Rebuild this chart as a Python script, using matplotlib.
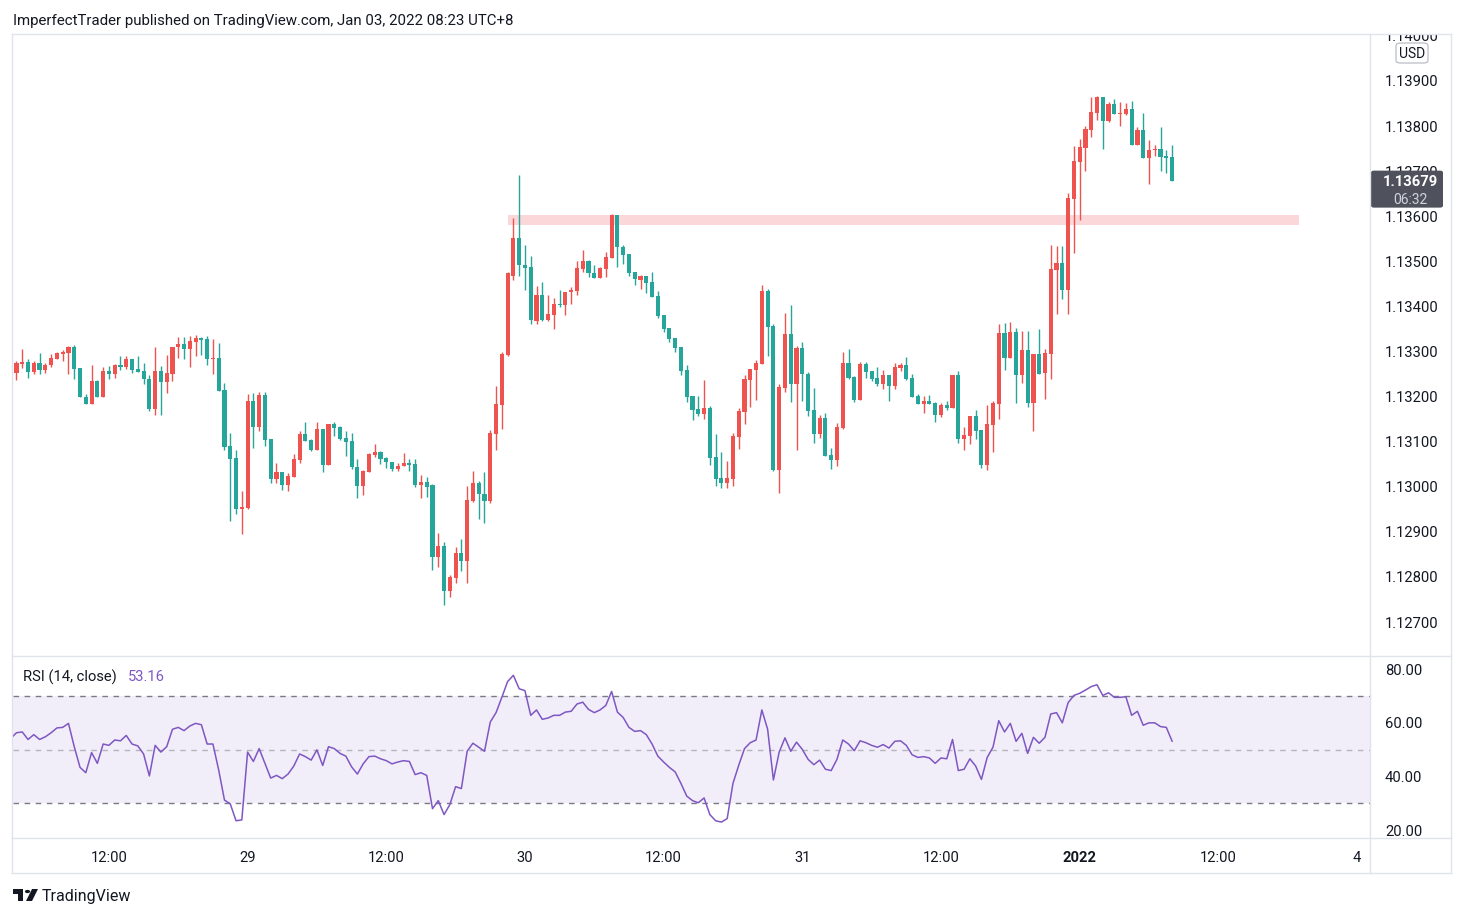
import numpy as np
import matplotlib
matplotlib.use('Agg')
import matplotlib.pyplot as plt
from matplotlib.patches import FancyBboxPatch, Polygon, Circle
from matplotlib.lines import Line2D
from matplotlib.transforms import offset_copy

# EURUSD 30 min bars, bar index -1 .. 200
first_bar = -1
opens = [
    1.13268,
    1.13253, 1.13273, 1.13277, 1.13255, 1.13275, 1.13260, 1.13269, 1.13284, 1.13295, 1.13297,
    1.13310, 1.13263, 1.13199, 1.13184, 1.13235, 1.13200, 1.13257, 1.13251, 1.13270, 1.13266,
    1.13283, 1.13261, 1.13257, 1.13239, 1.13173, 1.13257, 1.13233, 1.13251, 1.13309, 1.13317,
    1.13306, 1.13322, 1.13329, 1.13328, 1.13283, 1.13286, 1.13215, 1.13090, 1.13064, 1.12951,
    1.12953, 1.13190, 1.13133, 1.13204, 1.13105, 1.13017, 1.13032, 1.13003, 1.13022, 1.13059,
    1.13117, 1.13103, 1.13081, 1.13128, 1.13048, 1.13139, 1.13132, 1.13108, 1.13101, 1.13043,
    1.13002, 1.13032, 1.13070, 1.13077, 1.13063, 1.13056, 1.13040, 1.13045, 1.13053, 1.13051,
    1.13003, 1.13011, 1.13003, 1.12845, 1.12869, 1.12769, 1.12798, 1.12853, 1.12836, 1.12968,
    1.13009, 1.12984, 1.12969, 1.13118, 1.13182, 1.13292, 1.13468, 1.13552, 1.13491, 1.13488,
    1.13368, 1.13426, 1.13370, 1.13382, 1.13406, 1.13404, 1.13431, 1.13435, 1.13484, 1.13501,
    1.13474, 1.13464, 1.13484, 1.13508, 1.13602, 1.13532, 1.13516, 1.13477, 1.13459, 1.13467,
    1.13454, 1.13423, 1.13381, 1.13352, 1.13330, 1.13310, 1.13259, 1.13201, 1.13172, 1.13161,
    1.13174, 1.13066, 1.13019, 1.13008, 1.13017, 1.13110, 1.13166, 1.13237, 1.13259, 1.13273,
    1.13435, 1.13357, 1.13038, 1.13220, 1.13339, 1.13227, 1.13308, 1.13250, 1.13170, 1.13118,
    1.13153, 1.13071, 1.13060, 1.13131, 1.13275, 1.13244, 1.13193, 1.13272, 1.13257, 1.13241,
    1.13229, 1.13248, 1.13223, 1.13263, 1.13270, 1.13241, 1.13201, 1.13184, 1.13190, 1.13186,
    1.13159, 1.13181, 1.13175, 1.13248, 1.13106, 1.13112, 1.13157, 1.13126, 1.13048, 1.13137,
    1.13184, 1.13341, 1.13286, 1.13343, 1.13248, 1.13303, 1.13186, 1.13294, 1.13252, 1.13295,
    1.13481, 1.13496, 1.13437, 1.13639, 1.13721, 1.13752, 1.13792, 1.13830, 1.13864, 1.13812,
    1.13849, 1.13827, 1.13827, 1.13838, 1.13759, 1.13791, 1.13730, 1.13747, 1.13749, 1.13733,
    1.13731,
]
highs = [
    1.13270,
    1.13280, 1.13306, 1.13283, 1.13279, 1.13297, 1.13275, 1.13295, 1.13299, 1.13303, 1.13313,
    1.13314, 1.13263, 1.13206, 1.13270, 1.13237, 1.13266, 1.13268, 1.13272, 1.13290, 1.13290,
    1.13283, 1.13290, 1.13275, 1.13248, 1.13310, 1.13268, 1.13292, 1.13310, 1.13332, 1.13332,
    1.13334, 1.13337, 1.13332, 1.13334, 1.13328, 1.13319, 1.13230, 1.13119, 1.13081, 1.12990,
    1.13206, 1.13208, 1.13210, 1.13210, 1.13105, 1.13052, 1.13032, 1.13030, 1.13072, 1.13123,
    1.13143, 1.13105, 1.13143, 1.13128, 1.13139, 1.13143, 1.13134, 1.13123, 1.13119, 1.13061,
    1.13037, 1.13074, 1.13094, 1.13079, 1.13065, 1.13056, 1.13053, 1.13075, 1.13062, 1.13062,
    1.13026, 1.13022, 1.13007, 1.12897, 1.12878, 1.12804, 1.12867, 1.12884, 1.13002, 1.13035,
    1.13013, 1.13033, 1.13126, 1.13224, 1.13299, 1.13476, 1.13596, 1.13692, 1.13536, 1.13512,
    1.13445, 1.13454, 1.13426, 1.13419, 1.13437, 1.13432, 1.13443, 1.13501, 1.13525, 1.13503,
    1.13492, 1.13488, 1.13521, 1.13604, 1.13602, 1.13536, 1.13516, 1.13477, 1.13470, 1.13467,
    1.13476, 1.13434, 1.13381, 1.13352, 1.13330, 1.13310, 1.13270, 1.13201, 1.13201, 1.13237,
    1.13179, 1.13117, 1.13077, 1.13057, 1.13119, 1.13174, 1.13248, 1.13261, 1.13281, 1.13448,
    1.13439, 1.13361, 1.13228, 1.13386, 1.13404, 1.13312, 1.13321, 1.13255, 1.13219, 1.13159,
    1.13164, 1.13085, 1.13142, 1.13299, 1.13306, 1.13246, 1.13277, 1.13277, 1.13257, 1.13266,
    1.13259, 1.13248, 1.13275, 1.13275, 1.13288, 1.13250, 1.13206, 1.13201, 1.13204, 1.13188,
    1.13186, 1.13190, 1.13248, 1.13257, 1.13132, 1.13157, 1.13170, 1.13126, 1.13181, 1.13190,
    1.13361, 1.13363, 1.13366, 1.13352, 1.13345, 1.13345, 1.13294, 1.13349, 1.13305, 1.13536,
    1.13534, 1.13534, 1.13651, 1.13756, 1.13771, 1.13800, 1.13864, 1.13867, 1.13864, 1.13853,
    1.13860, 1.13853, 1.13851, 1.13856, 1.13798, 1.13829, 1.13769, 1.13758, 1.13798, 1.13747,
    1.13758,
]
lows = [
    1.13250,
    1.13237, 1.13263, 1.13242, 1.13251, 1.13251, 1.13253, 1.13266, 1.13284, 1.13280, 1.13249,
    1.13240, 1.13198, 1.13184, 1.13184, 1.13198, 1.13200, 1.13238, 1.13242, 1.13259, 1.13262,
    1.13253, 1.13255, 1.13229, 1.13167, 1.13160, 1.13160, 1.13209, 1.13235, 1.13286, 1.13284,
    1.13266, 1.13289, 1.13292, 1.13269, 1.13251, 1.13213, 1.13082, 1.12925, 1.12940, 1.12896,
    1.12951, 1.13087, 1.13124, 1.13091, 1.13008, 1.13008, 1.12993, 1.12991, 1.13022, 1.13052,
    1.13101, 1.13079, 1.13081, 1.13032, 1.13048, 1.13112, 1.13103, 1.13068, 1.13039, 1.12974,
    1.12981, 1.13032, 1.13065, 1.13050, 1.13041, 1.13034, 1.13036, 1.13045, 1.13036, 1.13000,
    1.12976, 1.12978, 1.12816, 1.12823, 1.12738, 1.12756, 1.12787, 1.12814, 1.12787, 1.12966,
    1.12929, 1.12920, 1.12963, 1.13082, 1.13129, 1.13290, 1.13459, 1.13468, 1.13437, 1.13360,
    1.13360, 1.13368, 1.13368, 1.13349, 1.13399, 1.13382, 1.13406, 1.13426, 1.13477, 1.13466,
    1.13464, 1.13464, 1.13466, 1.13508, 1.13488, 1.13495, 1.13468, 1.13448, 1.13439, 1.13430,
    1.13421, 1.13374, 1.13343, 1.13321, 1.13299, 1.13248, 1.13188, 1.13148, 1.13157, 1.13150,
    1.13048, 1.13001, 1.12997, 1.12997, 1.13001, 1.13083, 1.13139, 1.13177, 1.13192, 1.13273,
    1.13291, 1.13034, 1.12987, 1.13211, 1.13187, 1.13082, 1.13191, 1.13156, 1.13098, 1.13109,
    1.13069, 1.13040, 1.13045, 1.13129, 1.13238, 1.13187, 1.13193, 1.13242, 1.13235, 1.13224,
    1.13216, 1.13191, 1.13217, 1.13257, 1.13237, 1.13199, 1.13184, 1.13164, 1.13184, 1.13144,
    1.13155, 1.13170, 1.13175, 1.13097, 1.13081, 1.13095, 1.13106, 1.13041, 1.13037, 1.13077,
    1.13150, 1.13259, 1.13286, 1.13186, 1.13230, 1.13177, 1.13124, 1.13250, 1.13195, 1.13239,
    1.13383, 1.13417, 1.13383, 1.13519, 1.13592, 1.13701, 1.13776, 1.13814, 1.13750, 1.13810,
    1.13827, 1.13801, 1.13825, 1.13759, 1.13759, 1.13730, 1.13672, 1.13734, 1.13701, 1.13696,
    1.13679,
]
closes = [
    1.13253,
    1.13275, 1.13277, 1.13255, 1.13275, 1.13260, 1.13270, 1.13286, 1.13297, 1.13299, 1.13310,
    1.13262, 1.13198, 1.13184, 1.13235, 1.13200, 1.13257, 1.13251, 1.13270, 1.13266, 1.13283,
    1.13260, 1.13255, 1.13238, 1.13173, 1.13257, 1.13233, 1.13252, 1.13310, 1.13317, 1.13306,
    1.13323, 1.13330, 1.13326, 1.13284, 1.13286, 1.13213, 1.13089, 1.13062, 1.12951, 1.12955,
    1.13190, 1.13133, 1.13204, 1.13103, 1.13017, 1.13032, 1.13003, 1.13023, 1.13061, 1.13117,
    1.13101, 1.13081, 1.13128, 1.13048, 1.13139, 1.13130, 1.13105, 1.13099, 1.13043, 1.13002,
    1.13034, 1.13072, 1.13077, 1.13061, 1.13054, 1.13040, 1.13047, 1.13053, 1.13049, 1.13003,
    1.13011, 1.13000, 1.12845, 1.12869, 1.12769, 1.12800, 1.12853, 1.12836, 1.12971, 1.13009,
    1.12983, 1.12969, 1.13119, 1.13184, 1.13295, 1.13474, 1.13552, 1.13491, 1.13486, 1.13370,
    1.13426, 1.13370, 1.13383, 1.13406, 1.13403, 1.13432, 1.13437, 1.13485, 1.13501, 1.13473,
    1.13464, 1.13485, 1.13510, 1.13602, 1.13531, 1.13515, 1.13475, 1.13460, 1.13467, 1.13452,
    1.13421, 1.13379, 1.13350, 1.13328, 1.13308, 1.13257, 1.13199, 1.13170, 1.13161, 1.13174,
    1.13063, 1.13017, 1.13008, 1.13019, 1.13112, 1.13168, 1.13239, 1.13261, 1.13274, 1.13435,
    1.13355, 1.13038, 1.13221, 1.13339, 1.13227, 1.13308, 1.13249, 1.13169, 1.13118, 1.13153,
    1.13069, 1.13060, 1.13133, 1.13275, 1.13242, 1.13193, 1.13272, 1.13255, 1.13240, 1.13229,
    1.13248, 1.13224, 1.13266, 1.13270, 1.13239, 1.13199, 1.13184, 1.13190, 1.13184, 1.13159,
    1.13181, 1.13175, 1.13248, 1.13106, 1.13115, 1.13157, 1.13124, 1.13048, 1.13139, 1.13186,
    1.13341, 1.13286, 1.13343, 1.13248, 1.13303, 1.13186, 1.13294, 1.13250, 1.13296, 1.13483,
    1.13496, 1.13437, 1.13640, 1.13722, 1.13753, 1.13793, 1.13831, 1.13864, 1.13812, 1.13849,
    1.13827, 1.13830, 1.13838, 1.13759, 1.13791, 1.13730, 1.13747, 1.13749, 1.13732, 1.13730,
    1.13679,
]
rsi = [
    54.2,
    56.3, 56.6, 53.8, 55.6, 53.8, 54.8, 56.3, 58.1, 58.3, 59.8,
    51.1, 43.4, 41.4, 48.9, 44.9, 52.1, 51.6, 53.6, 53.3, 55.3,
    52.1, 51.4, 48.4, 40.2, 51.6, 49.1, 51.1, 57.6, 58.3, 57.1,
    58.8, 59.8, 59.3, 52.1, 52.1, 42.4, 31.2, 29.8, 23.5, 23.8,
    49.1, 45.6, 50.4, 44.9, 39.4, 40.4, 39.2, 40.9, 43.9, 48.4,
    47.4, 46.1, 49.9, 44.1, 51.1, 50.4, 48.6, 47.6, 43.6, 40.9,
    44.7, 47.4, 47.6, 46.6, 45.9, 44.7, 45.4, 45.9, 45.6, 40.7,
    41.4, 40.4, 28.0, 31.0, 25.8, 29.5, 36.2, 35.5, 49.4, 52.4,
    50.9, 49.4, 60.3, 63.8, 69.5, 75.4, 77.7, 72.7, 72.0, 62.8,
    64.8, 61.3, 61.8, 62.8, 62.8, 64.0, 64.3, 67.0, 67.7, 65.0,
    63.8, 64.8, 66.5, 71.7, 64.0, 62.0, 58.3, 56.8, 57.1, 55.6,
    52.1, 47.6, 45.4, 43.4, 41.7, 37.4, 32.7, 31.0, 30.2, 32.0,
    25.8, 23.5, 23.0, 24.3, 37.4, 44.2, 50.4, 52.6, 53.6, 64.8,
    57.6, 38.7, 49.1, 54.4, 49.4, 52.8, 50.1, 46.4, 44.4, 46.1,
    42.7, 42.2, 46.4, 53.6, 52.1, 49.6, 53.3, 52.6, 51.6, 50.9,
    51.9, 50.6, 53.1, 53.3, 51.6, 48.1, 47.1, 47.4, 46.9, 44.9,
    46.9, 46.6, 53.8, 42.2, 42.7, 46.6, 43.9, 38.9, 47.1, 50.9,
    60.8, 56.6, 59.8, 53.1, 56.1, 48.6, 54.6, 52.4, 54.6, 63.3,
    63.8, 60.0, 67.5, 70.2, 71.0, 72.2, 73.5, 74.2, 70.2, 71.2,
    69.5, 69.5, 69.7, 62.8, 64.3, 59.1, 60.0, 60.0, 58.6, 58.3,
    53.16,
]

time_ticks = [16, 40, 64, 88, 112, 136, 160, 184, 208, 232]
time_labels = ['12:00', '29', '12:00', '30', '12:00', '31', '12:00', '2022', '12:00', '4']
price_ticks = [1.140, 1.139, 1.138, 1.137, 1.136, 1.135, 1.134, 1.133, 1.132,
               1.131, 1.130, 1.129, 1.128, 1.127]
rsi_ticks = [80, 60, 40, 20]
resistance_low, resistance_high = 1.13581, 1.13603
resistance_start, resistance_end = 85, 222
countdown = '06:32'

UP = '#ef5350'
DOWN = '#26a69a'
TEXT = '#131722'
BORDER = '#e0e3eb'
PURPLE = '#7e57c2'
FONT = 'Roboto'
FS = 10.6

W, H = 1464, 917
fig = plt.figure(figsize=(W / 100, H / 100), dpi=100)
fig.patch.set_facecolor('white')


def box(x0, y0, x1, y1):
    return [x0 / W, 1 - y1 / H, (x1 - x0) / W, (y1 - y0) / H]


def hline(y, x0, x1, **kw):
    fig.add_artist(Line2D([x0 / W, x1 / W], [1 - y / H, 1 - y / H],
                          transform=fig.transFigure, **kw))


def vline(x, y0, y1, **kw):
    fig.add_artist(Line2D([x / W, x / W], [1 - y0 / H, 1 - y1 / H],
                          transform=fig.transFigure, **kw))


def ftext(x, y, s, **kw):
    return fig.text(x / W, 1 - y / H, s, family=FONT, **kw)


xlim = (-0.6, 234.25)
price_lim = (1.126246, 1.140020)
rsi_lim = (17.07, 84.91)

ax_p = fig.add_axes(box(13, 35, 1370, 656))
ax_r = fig.add_axes(box(13, 656, 1370, 838))
ax_ps = fig.add_axes(box(1370, 35, 1451, 656))
ax_rs = fig.add_axes(box(1370, 656, 1451, 838))
for a in (ax_p, ax_r, ax_ps, ax_rs):
    a.set_axis_off()
ax_p.set_xlim(*xlim)
ax_r.set_xlim(*xlim)
ax_p.set_ylim(*price_lim)
ax_ps.set_ylim(*price_lim)
ax_ps.set_xlim(0, 81)
ax_r.set_ylim(*rsi_lim)
ax_rs.set_ylim(*rsi_lim)
ax_rs.set_xlim(0, 81)

# candles
idx = np.arange(first_bar, first_bar + len(closes))
o = np.array(opens)
h = np.array(highs)
l = np.array(lows)
c = np.array(closes)
colors = np.where(c > o, UP, DOWN)
body_lo = np.minimum(o, c)
body_h = np.maximum(np.abs(c - o), 0.000022)
ax_p.vlines(idx, l, h, colors=colors, lw=1.0, zorder=3)
ax_p.bar(idx, body_h, bottom=body_lo, width=0.72, color=colors, linewidth=0, zorder=4)

# resistance zone
ax_p.fill_between([resistance_start, resistance_end], resistance_low, resistance_high,
                  color='#fcd7da', lw=0, zorder=2)

# price scale
ps_tr = offset_copy(ax_ps.transData, fig=fig, y=-1.5, units='dots')
for p in price_ticks:
    ax_ps.text(15, p, '%.5f' % p, transform=ps_tr, ha='left', va='center',
               fontsize=FS, family=FONT, color=TEXT, clip_on=True)

# RSI pane
ax_r.fill_between(xlim, 30, 70, color='#f2eef9', lw=0, zorder=1)
ax_r.axhline(70, color='#787b86', lw=1, dashes=(4, 4), zorder=2)
ax_r.axhline(30, color='#787b86', lw=1, dashes=(4, 4), zorder=2)
ax_r.axhline(50, color='#787b86', lw=1, dashes=(4, 4), alpha=0.5, zorder=2)
ax_r.plot(idx, rsi, color=PURPLE, lw=1.1, zorder=3)
rs_tr = offset_copy(ax_rs.transData, fig=fig, y=-1.5, units='dots')
for v in rsi_ticks:
    ax_rs.text(15, v, '%.2f' % v, transform=rs_tr, ha='left', va='center',
               fontsize=FS, family=FONT, color=TEXT)

ftext(23, 677, 'RSI (14, close)', ha='left', va='center', fontsize=FS, color=TEXT)
ftext(128, 677, '%.2f' % rsi[-1], ha='left', va='center', fontsize=FS, color=PURPLE)

# time axis
for t, lab in zip(time_ticks, time_labels):
    ax_r.text(t, -19.5 / 182, lab, transform=ax_r.get_xaxis_transform(),
              ha='center', va='center', fontsize=FS, family=FONT, color=TEXT,
              fontweight='bold' if lab == '2022' else 'normal', clip_on=False)

# frame
hline(34, 12, 1451, color=BORDER, lw=1)
hline(873, 12, 1451, color=BORDER, lw=1)
hline(656, 12, 1451, color=BORDER, lw=1)
hline(838, 12, 1451, color=BORDER, lw=1)
vline(12, 34, 873, color=BORDER, lw=1)
vline(1451, 34, 873, color=BORDER, lw=1)
vline(1370, 34, 873, color=BORDER, lw=1)

# currency tag
fig.add_artist(FancyBboxPatch((1396 / W, 1 - 63 / H), 32 / W, 20 / H,
                              boxstyle='round,pad=0,rounding_size=0.003',
                              transform=fig.transFigure, facecolor='white',
                              edgecolor='#b2b5be', lw=0.8))
ftext(1412, 54, 'USD', ha='center', va='center', fontsize=10, color=TEXT)

# last price tag
last = closes[-1]
y_last = 35 + (price_lim[1] - last) / (price_lim[1] - price_lim[0]) * 621
fig.add_artist(FancyBboxPatch((1371 / W, 1 - (y_last + 27) / H), 72 / W, 37 / H,
                              boxstyle='round,pad=0,rounding_size=0.002',
                              transform=fig.transFigure, facecolor='#4f525c',
                              edgecolor='none'))
ftext(1410, y_last + 1, '%.5f' % last, ha='center', va='center',
      fontsize=FS, color='white', fontweight='bold')
ftext(1410, y_last + 19, countdown, ha='center', va='center',
      fontsize=10, color='#d1d4dc')

# header
ftext(13, 20.5, 'ImperfectTrader published on TradingView.com, Jan 03, 2022 08:23 UTC+8',
      ha='left', va='center', fontsize=10.8, color=TEXT)

# footer logo
logo = [(13, 889), (23, 889), (23, 901), (18, 901), (18, 894), (13, 894)]
fig.add_artist(Polygon([(x / W, 1 - y / H) for x, y in logo], closed=True,
                       transform=fig.transFigure, facecolor=TEXT, edgecolor='none'))
fig.add_artist(Circle((27.5 / W, 1 - 891.5 / H), 2.6 / W, transform=fig.transFigure,
                      facecolor=TEXT, edgecolor='none'))
vee = [(32, 889), (38, 889), (32, 901), (26, 901)]
fig.add_artist(Polygon([(x / W, 1 - y / H) for x, y in vee], closed=True,
                       transform=fig.transFigure, facecolor=TEXT, edgecolor='none'))
ftext(42, 896.5, 'TradingView', ha='left', va='center', fontsize=11.5, color=TEXT)

fig.savefig('out.png', dpi=100, facecolor='white')
